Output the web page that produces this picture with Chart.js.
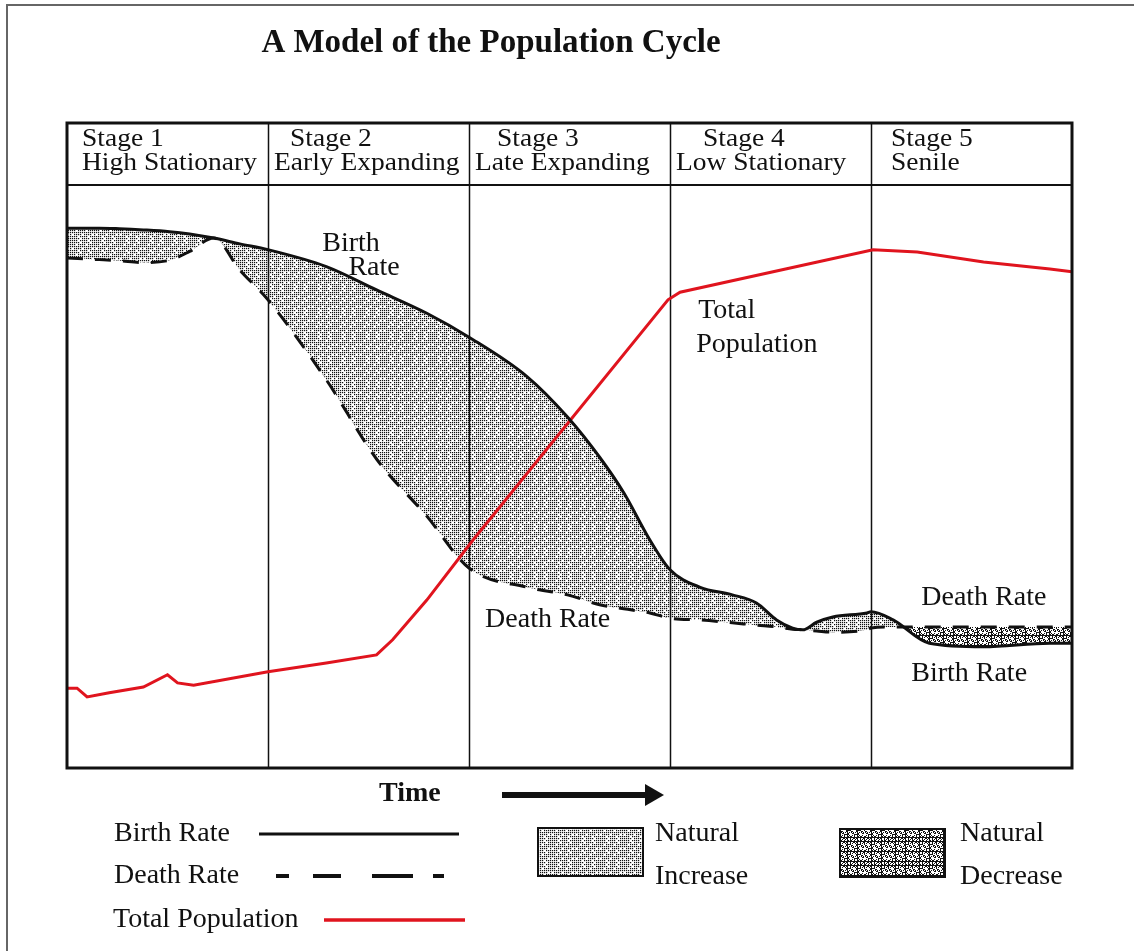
<!DOCTYPE html>
<html lang="en">
<head>
    <meta charset="UTF-8">
    <title>A Model of the Population Cycle</title>
    <script src="https://cdn.jsdelivr.net/npm/chart.js"></script>
    <style>
        body { margin: 0; background: #fff; }
        canvas { display: block; }
    </style>
</head>
<body>
    <canvas id="cycleChart" width="1134" height="951"></canvas>

    <script>
        // stages across the time axis (1 unit = 1 stage)
        const stageNames = ['Stage 1', 'Stage 2', 'Stage 3', 'Stage 4', 'Stage 5'];
        const stageTypes = ['High Stationary', 'Early Expanding', 'Late Expanding', 'Low Stationary', 'Senile'];

        // birth & death rate share the same time samples (relative scale 0-100)
        const rateTime = [0, 0.16, 0.26, 0.38, 0.51, 0.61, 0.73, 0.86, 1.0, 1.29, 1.54, 1.79, 2.0, 2.29, 2.49, 2.65, 2.77, 2.9, 3.0,
                          3.15, 3.31, 3.43, 3.53, 3.61, 3.66, 3.73, 3.81, 3.98, 4.0, 4.11, 4.29, 4.56, 4.89, 5.0];
        const birthRate = [92.6, 92.6, 92.5, 92.3, 92.0, 91.6, 90.9, 89.9, 88.9, 86.0, 82.0, 78.0, 73.9, 67.1, 60.2, 53.3, 47.2, 39.1, 34.0,
                           31.0, 29.7, 28.3, 25.4, 24.0, 23.7, 25.0, 25.9, 26.6, 26.8, 25.4, 21.4, 20.8, 21.4, 21.4];
        const deathRate = [87.5, 87.2, 87.0, 86.7, 87.1, 88.6, 90.9, 85.4, 80.3, 66.6, 53.0, 43.2, 34.3, 31.0, 29.7, 28.0, 27.3, 26.6, 25.7,
                           25.4, 24.9, 24.5, 24.2, 23.8, 23.7, 23.5, 23.3, 23.7, 24.0, 24.2, 24.2, 24.2, 24.2, 24.2];

        const popTime = [0, 0.05, 0.10, 0.21, 0.38, 0.50, 0.55, 0.63, 1.0, 1.29, 1.54, 1.62, 1.79, 2.02, 2.99, 3.05, 4.01, 4.23, 4.56, 4.89, 5.0];
        const totalPop = [13.7, 13.7, 12.2, 12.9, 13.9, 16.0, 14.6, 14.2, 16.5, 18.0, 19.4, 22.0, 28.8, 39.1, 80.3, 81.6, 88.9, 88.5, 86.8, 85.6, 85.1];

        const SERIF = '"Liberation Serif", "Times New Roman", serif';

        // stipple textures for the natural increase / decrease areas
        function makeStipple(dense) {
            const c = document.createElement('canvas');
            c.width = c.height = 24;
            const g = c.getContext('2d');
            g.fillStyle = '#fff';
            g.fillRect(0, 0, 24, 24);
            g.fillStyle = '#111';
            for (let i = 0; i < 24; i++) {
                for (let j = 0; j < 24; j++) {
                    const h = (i * 73 + j * 151 + i * j * 17) % 10;
                    if (dense) {
                        if (h < 5) g.fillRect(i, j, 1, 1);
                    } else if (i % 2 === 0 && j % 2 === 0 && h < 7) {
                        g.fillRect(i, j, 1.2, 1.2);
                    }
                }
            }
            return g.createPattern(c, 'repeat');
        }
        const ctx = document.getElementById('cycleChart').getContext('2d');
        const increaseFill = makeStipple(false);
        const decreaseFill = makeStipple(true);

        const toPoints = (xs, ys) => xs.map((x, i) => ({ x: x, y: ys[i] }));

        // header text in the source is wider than it is tall
        function wideText(c, text, x, y, sx) {
            c.save();
            c.translate(x, y);
            c.scale(sx, 1);
            c.fillText(text, 0, 0);
            c.restore();
        }

        const framePlugin = {
            id: 'frame',
            beforeDatasetsDraw(chart) {
                const { ctx, scales: { x } } = chart;
                ctx.save();
                ctx.strokeStyle = '#111';
                ctx.lineWidth = 1.5;
                for (let i = 1; i < stageNames.length; i++) {
                    const px = Math.round(x.getPixelForValue(i)) + 0.5;
                    ctx.beginPath();
                    ctx.moveTo(px, 123);
                    ctx.lineTo(px, chart.chartArea.bottom);
                    ctx.stroke();
                }
                ctx.restore();
            },
            afterDraw(chart) {
                const { ctx, chartArea: a, scales: { x, y } } = chart;
                ctx.save();

                // outer picture border
                ctx.strokeStyle = '#666';
                ctx.lineWidth = 2;
                ctx.beginPath();
                ctx.moveTo(7, 951);
                ctx.lineTo(7, 5);
                ctx.lineTo(1134, 5);
                ctx.stroke();

                // title
                ctx.fillStyle = '#111';
                ctx.font = 'bold 33px ' + SERIF;
                ctx.textAlign = 'center';
                ctx.textBaseline = 'middle';
                ctx.fillText('A Model of the Population Cycle', 491, 43);

                // table box and header row
                ctx.strokeStyle = '#111';
                ctx.lineWidth = 3;
                ctx.strokeRect(a.left, 123, a.right - a.left, a.bottom - 123);
                ctx.lineWidth = 2;
                ctx.beginPath();
                ctx.moveTo(a.left, a.top);
                ctx.lineTo(a.right, a.top);
                ctx.stroke();

                ctx.textAlign = 'left';
                ctx.textBaseline = 'alphabetic';
                ctx.font = '25px ' + SERIF;
                const nameOffset = [15, 22, 28, 33, 20];
                const typeOffset = [15, 6, 6, 6, 20];
                stageNames.forEach((s, i) => {
                    const px = x.getPixelForValue(i);
                    wideText(ctx, s, px + nameOffset[i], 146, 1.1);
                    wideText(ctx, stageTypes[i], px + typeOffset[i], 170, 1.1);
                });

                // in-chart annotations
                ctx.textBaseline = 'middle';
                ctx.font = '28px ' + SERIF;
                ctx.fillText('Birth', x.getPixelForValue(1.27), y.getPixelForValue(90.0));
                ctx.fillText('Rate', x.getPixelForValue(1.40), y.getPixelForValue(85.8));
                ctx.fillText('Total', x.getPixelForValue(3.14), y.getPixelForValue(78.4));
                ctx.fillText('Population', x.getPixelForValue(3.13), y.getPixelForValue(72.7));
                ctx.fillText('Death Rate', x.getPixelForValue(2.08), y.getPixelForValue(25.4));
                ctx.fillText('Death Rate', x.getPixelForValue(4.25), y.getPixelForValue(29.2));
                ctx.fillText('Birth Rate', x.getPixelForValue(4.20), y.getPixelForValue(16.2));

                // time arrow
                ctx.font = 'bold 28px ' + SERIF;
                ctx.fillText('Time', 379, 794);
                ctx.lineWidth = 6;
                ctx.beginPath();
                ctx.moveTo(502, 795);
                ctx.lineTo(648, 795);
                ctx.stroke();
                ctx.beginPath();
                ctx.moveTo(645, 784);
                ctx.lineTo(664, 795);
                ctx.lineTo(645, 806);
                ctx.closePath();
                ctx.fill();

                // legend
                ctx.font = '28px ' + SERIF;
                ctx.fillText('Birth Rate', 114, 834);
                ctx.fillText('Death Rate', 114, 876);
                ctx.fillText('Total Population', 113, 920);
                ctx.lineWidth = 3;
                ctx.beginPath();
                ctx.moveTo(259, 834);
                ctx.lineTo(459, 834);
                ctx.stroke();
                ctx.lineWidth = 4;
                ctx.setLineDash([13, 24, 28, 31, 41, 20, 11, 100]);
                ctx.beginPath();
                ctx.moveTo(276, 876);
                ctx.lineTo(445, 876);
                ctx.stroke();
                ctx.setLineDash([]);
                ctx.strokeStyle = '#e0141e';
                ctx.lineWidth = 3.5;
                ctx.beginPath();
                ctx.moveTo(324, 920);
                ctx.lineTo(465, 920);
                ctx.stroke();

                ctx.strokeStyle = '#111';
                ctx.lineWidth = 2;
                ctx.fillStyle = increaseFill;
                ctx.fillRect(538, 828, 105, 48);
                ctx.strokeRect(538, 828, 105, 48);
                ctx.fillStyle = decreaseFill;
                ctx.fillRect(840, 829, 105, 48);
                ctx.strokeRect(840, 829, 105, 48);

                ctx.fillStyle = '#111';
                ctx.fillText('Natural', 655, 834);
                ctx.fillText('Increase', 655, 877);
                ctx.fillText('Natural', 960, 834);
                ctx.fillText('Decrease', 960, 877);

                ctx.restore();
            }
        };

        new Chart(ctx, {
            type: 'line',
            data: {
                datasets: [
                    {
                        label: 'Birth Rate',
                        data: toPoints(rateTime, birthRate),
                        borderColor: '#111',
                        borderWidth: 3,
                        backgroundColor: increaseFill,
                        fill: { target: 1, above: increaseFill, below: decreaseFill },
                        cubicInterpolationMode: 'monotone'
                    },
                    {
                        label: 'Death Rate',
                        data: toPoints(rateTime, deathRate),
                        borderColor: '#111',
                        borderWidth: 3,
                        borderDash: [16, 12],
                        fill: false,
                        cubicInterpolationMode: 'monotone'
                    },
                    {
                        label: 'Total Population',
                        data: toPoints(popTime, totalPop),
                        borderColor: '#e0141e',
                        borderWidth: 3,
                        fill: false,
                        tension: 0
                    }
                ]
            },
            options: {
                responsive: false,
                animation: false,
                layout: { padding: { left: 67, right: 62, top: 185, bottom: 183 } },
                elements: { point: { radius: 0 } },
                scales: {
                    x: { type: 'linear', min: 0, max: 5, display: false },
                    y: { min: 0, max: 100, display: false }
                },
                plugins: {
                    legend: { display: false },
                    tooltip: { enabled: false },
                    filler: { drawTime: 'beforeDatasetsDraw' }
                }
            },
            plugins: [framePlugin]
        });
    </script>
</body>
</html>
